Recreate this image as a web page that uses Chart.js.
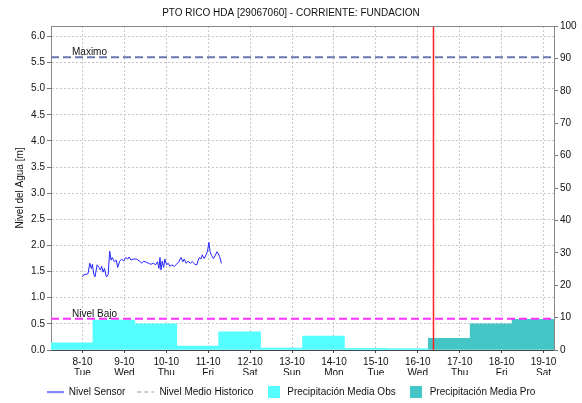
<!DOCTYPE html>
<html>
<head>
<meta charset="utf-8">
<script src="https://cdn.jsdelivr.net/npm/chart.js@4.4.0/dist/chart.umd.min.js"></script>
<style>
  body { margin: 0; background: #fff; }
  canvas { display: block; }
</style>
</head>
<body>
<canvas id="chart" width="582" height="403"></canvas>
<script>
// dias del periodo (tick cada 24 h, hora 0 = 8-10 00:00)
var dayDates = ['8-10', '9-10', '10-10', '11-10', '12-10', '13-10', '14-10', '15-10', '16-10', '17-10', '18-10', '19-10'];
var dayNames = ['Tue', 'Wed', 'Thu', 'Fri', 'Sat', 'Sun', 'Mon', 'Tue', 'Wed', 'Thu', 'Fri', 'Sat'];

// nivel del sensor [m], horas desde el inicio
var sensorHours = [0, 0.8, 2.3, 3.2, 4.2, 5.1, 5.7, 6.5, 7.2, 8.4, 9.5, 10.3, 11.0, 11.8, 12.6, 13.7, 14.7, 15.6, 16.4, 17.1,
  18.3, 19.4, 20.2, 21.3, 22.5, 23.6, 24.8, 25.9, 26.7, 27.8, 29.0, 30.9, 32.8, 33.9, 35.0, 36.6, 38.5, 39.2, 40.6, 41.9,
  43.0, 43.8, 44.4, 45.0, 45.7, 46.5, 47.2, 48.2, 49.1, 50.1, 51.0, 52.6, 53.9, 55.2, 56.4, 57.5, 58.3, 59.4, 60.6, 61.7,
  62.9, 64.4, 65.5, 66.3, 67.0, 67.8, 68.6, 69.7, 70.9, 71.6, 72.4, 73.1, 73.9, 75.0, 76.2, 77.0, 77.7, 78.5, 79.6];
var sensorLevel = [1.40, 1.44, 1.45, 1.46, 1.66, 1.56, 1.64, 1.45, 1.40, 1.63, 1.58, 1.53, 1.60, 1.49, 1.56, 1.40, 1.44, 1.89, 1.72, 1.77,
  1.69, 1.72, 1.58, 1.70, 1.74, 1.70, 1.77, 1.74, 1.78, 1.72, 1.74, 1.74, 1.70, 1.66, 1.70, 1.68, 1.65, 1.64, 1.66, 1.63,
  1.69, 1.56, 1.77, 1.53, 1.70, 1.58, 1.74, 1.63, 1.66, 1.60, 1.63, 1.60, 1.64, 1.69, 1.77, 1.69, 1.74, 1.66, 1.70, 1.66,
  1.69, 1.64, 1.63, 1.72, 1.77, 1.74, 1.82, 1.75, 1.83, 1.89, 2.06, 1.88, 1.81, 1.75, 1.82, 1.88, 1.85, 1.79, 1.66];

// precipitacion media diaria [mm], observada y pronosticada
var rainObs = [2.2, 9.2, 8.1, 1.2, 5.6, 0.6, 4.3, 0.5, 0.4];
var rainPro = [3.6, 8.1, 9.5];

var levelMax = 5.6;
var levelLow = 0.6;
var nowHour = 201;

var xMin = -18, xMax = 270;
var levelTop = 6.2, rainTop = 100;

var FONT = '"Liberation Sans", Arial, sans-serif';
Chart.defaults.font.family = FONT;
Chart.defaults.font.size = 10;
Chart.defaults.color = '#222';

// simbolos de la leyenda
function swatch(w, h, draw) {
  var c = document.createElement('canvas');
  c.width = w; c.height = h;
  draw(c.getContext('2d'));
  return c;
}
function lineSwatch(color, dash) {
  return swatch(17, 3, function (g) {
    g.strokeStyle = color; g.lineWidth = 1.2;
    g.setLineDash(dash);
    g.beginPath(); g.moveTo(0, 1.5); g.lineTo(17, 1.5); g.stroke();
  });
}
function boxSwatch(color) {
  return swatch(12, 12, function (g) { g.fillStyle = color; g.fillRect(0, 0, 12, 12); });
}

var sensorData = sensorHours.map(function (h, i) { return {x: h, y: sensorLevel[i]}; });
var obsData = rainObs.map(function (v, i) { return {x: xMin + 12 + i * 24, y: v}; });
var proData = rainPro.map(function (v, i) { return {x: xMin + 12 + (rainObs.length + i) * 24, y: v}; });

var hidden = ['Maximo', 'Nivel Bajo', 'Actual'];

var overlay = {
  id: 'overlay',
  afterDatasetsDraw: function (chart) {
    var ctx = chart.ctx, a = chart.chartArea, y = chart.scales.y;
    ctx.save();
    ctx.strokeStyle = '#888';
    ctx.lineWidth = 1;
    ctx.beginPath();
    ctx.moveTo(a.left, a.top + 0.5);
    ctx.lineTo(a.right, a.top + 0.5);
    ctx.stroke();
    ctx.font = '10px ' + FONT;
    ctx.fillStyle = '#111';
    ctx.textBaseline = 'alphabetic';
    ctx.fillText('Maximo', a.left + 21, y.getPixelForValue(levelMax) - 2);
    ctx.fillText('Nivel Bajo', a.left + 21, y.getPixelForValue(levelLow) - 2);
    ctx.restore();
  }
};

var ctx = document.getElementById('chart').getContext('2d');
var chart = new Chart(ctx, {
  type: 'bar',
  data: {
    datasets: [
      {
        type: 'line', label: 'Nivel Sensor', data: sensorData, yAxisID: 'y',
        borderColor: '#2424ff', borderWidth: 1, pointRadius: 0, tension: 0,
        pointStyle: lineSwatch('#2424ff', []), order: 1
      },
      {
        type: 'line', label: 'Nivel Medio Historico', data: [], yAxisID: 'y',
        borderColor: '#aaaaaa', borderDash: [4, 3], borderWidth: 1, pointRadius: 0,
        pointStyle: lineSwatch('#999999', [4, 3]), order: 2
      },
      {
        label: 'Precipitación Media Obs', data: obsData, yAxisID: 'y2',
        backgroundColor: '#55ffff', borderWidth: 0, grouped: false,
        barPercentage: 1, categoryPercentage: 1,
        pointStyle: boxSwatch('#55ffff'), order: 10
      },
      {
        label: 'Precipitación Media Pro', data: proData, yAxisID: 'y2',
        backgroundColor: '#45c6c6', borderWidth: 0, grouped: false,
        barPercentage: 1, categoryPercentage: 1,
        pointStyle: boxSwatch('#45c6c6'), order: 10
      },
      {
        type: 'line', label: 'Maximo', yAxisID: 'y',
        data: [{x: xMin, y: levelMax}, {x: xMax, y: levelMax}],
        borderColor: '#6b78ab', borderWidth: 2, borderDash: [8, 4], pointRadius: 0, order: 3
      },
      {
        type: 'line', label: 'Nivel Bajo', yAxisID: 'y',
        data: [{x: xMin, y: levelLow}, {x: xMax, y: levelLow}],
        borderColor: '#ff33ff', borderWidth: 2, borderDash: [8, 4], pointRadius: 0, order: 3
      },
      {
        type: 'line', label: 'Actual', yAxisID: 'y',
        data: [{x: nowHour, y: 0}, {x: nowHour, y: levelTop}],
        borderColor: '#ff2020', borderWidth: 1.5, pointRadius: 0, order: 0
      }
    ]
  },
  options: {
    responsive: false,
    animation: false,
    layout: { padding: { left: 0, right: 0, top: 0, bottom: -4 } },
    plugins: {
      title: {
        display: true,
        text: 'PTO RICO HDA [29067060] - CORRIENTE: FUNDACION',
        font: { size: 10, weight: 'normal' },
        color: '#111',
        padding: { top: 7, bottom: 7 }
      },
      legend: {
        position: 'bottom',
        labels: {
          usePointStyle: true,
          pointStyleWidth: 17,
          padding: 12,
          color: '#111',
          filter: function (item) { return hidden.indexOf(item.text) < 0; }
        }
      },
      tooltip: { enabled: false }
    },
    scales: {
      x: {
        type: 'linear', min: xMin, max: xMax, offset: false,
        afterBuildTicks: function (s) { s.ticks = dayDates.map(function (d, i) { return {value: i * 24}; }); },
        afterFit: function (s) { s.height = 25; },
        ticks: {
          autoSkip: false, maxRotation: 0, padding: 4, color: '#111',
          font: { size: 10, lineHeight: 1.05 },
          callback: function (v) { var i = Math.round(v / 24); return [dayDates[i], dayNames[i]]; }
        },
        grid: { offset: false, color: '#c8c8c8', tickColor: '#444', tickLength: 3 },
        border: { color: '#444', dash: [2, 2] }
      },
      y: {
        position: 'left', min: 0, max: levelTop,
        afterBuildTicks: function (s) {
          var t = [];
          for (var i = 0; i <= 12; i++) t.push({value: i * 0.5});
          s.ticks = t;
        },
        afterFit: function (s) { s.width = 51; },
        ticks: { padding: 2, color: '#111', callback: function (v) { return v.toFixed(1); } },
        grid: { color: '#c8c8c8', tickColor: '#777', tickLength: 4 },
        border: { color: '#888', dash: [2, 2] },
        title: { display: true, text: 'Nivel del Agua [m]', color: '#111', font: { size: 10 }, padding: { top: 14, bottom: 0 } }
      },
      y2: {
        position: 'right', min: 0, max: rainTop,
        afterBuildTicks: function (s) {
          var t = [];
          for (var i = 0; i <= 10; i++) t.push({value: i * 10});
          s.ticks = t;
        },
        afterFit: function (s) { s.width = 28; },
        ticks: { padding: 2, color: '#111' },
        grid: { drawOnChartArea: false, color: '#777', tickLength: 4 },
        border: { color: '#888' }
      }
    }
  },
  plugins: [overlay]
});
</script>
</body>
</html>
